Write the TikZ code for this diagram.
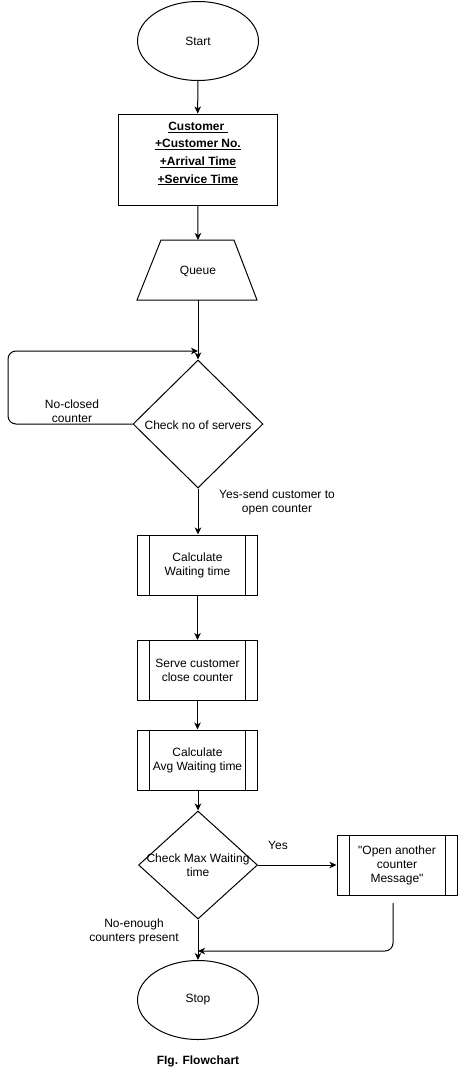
\documentclass[tikz,border=0pt]{standalone}
\usepackage{fontspec}
\setmainfont{Liberation Sans}[Ligatures=TeXOff]
\usetikzlibrary{shapes.geometric,arrows.meta}

\begin{document}
\begin{tikzpicture}[x=1pt,y=-1pt,
  every node/.style={font=\fontsize{12}{14}\selectfont},
  line/.style={draw, line width=1pt},
  arr/.style={line, -{Stealth[length=7pt,width=6.5pt,inset=2pt]}},
  term/.style={ellipse, draw, line width=1pt, minimum width=121pt, minimum height=79pt, inner sep=0pt},
  box/.style={rectangle, draw, line width=1pt, minimum width=120pt, minimum height=60pt, inner sep=0pt, align=center},
  proc/.style={box, path picture={
      \draw[line width=1pt]
        ([xshift=12pt]path picture bounding box.north west) -- ([xshift=12pt]path picture bounding box.south west)
        ([xshift=-12pt]path picture bounding box.north east) -- ([xshift=-12pt]path picture bounding box.south east);}},
  dec/.style={diamond, draw, line width=1pt, inner sep=0pt},
  lbl/.style={align=center, inner sep=0pt}]

\useasboundingbox (0,0) rectangle (458,1071);

% start / customer record
\node[term] (start) at (198,41) {Start};
\node[rectangle, draw, line width=1pt, minimum width=159pt, minimum height=91pt, inner sep=0pt] (cust) at (197.5,159.5) {};
\node[lbl, font=\bfseries\fontsize{12}{17.6}\selectfont] (custtext) at (198,153.5)
  {\underline{Customer\ }\\\underline{+Customer No.}\\\underline{+Arrival Time}\\\underline{+Service Time}};

% queue
\coordinate (qtop) at (198,240);
\coordinate (qbot) at (198,300);
\draw[line] (161,240) -- (234,240) -- (257,300) -- (137,300) -- cycle;
\node (queue) at (198,271) {Queue};

% server check
\node[dec, minimum width=130pt, minimum height=128pt] (d1) at (198,424) {};
\node[lbl] (d1text) at (198,425) {Check no of servers};
\coordinate (loopend) at (198,351);

% processing steps
\node[proc] (wait) at (197.5,565) {Calculate\\Waiting time};
\node[proc] (serve) at (197.5,670.5) {Serve customer\\close counter};
\node[proc] (avg) at (197.5,760) {Calculate\\Avg Waiting time};

% max waiting check
\node[dec, minimum width=119pt, minimum height=108pt] (d2) at (198,865) {};
\node[lbl] (d2text) at (198,865.5) {Check Max Waiting\\time};
\node[proc] (msg) at (397,865) {"Open another\\counter\\Message"};

% stop
\node[term] (stop) at (198,1000) {Stop};
\coordinate (b4out) at (393,903);
\coordinate (merge) at (198,951);

% connectors
\draw[arr] (start) -- (cust);
\draw[arr] (cust) -- (qtop);
\draw[arr] (qbot) -- (d1.north);
\draw[arr, rounded corners=8pt] (d1.west) -- (8,424) -- (8,351) -- (loopend);
\draw[arr] (d1.south) -- (d1.south |- wait.north);
\draw[arr] (wait) -- (serve);
\draw[arr] (serve) -- (avg);
\draw[arr] (avg.south -| d2.north) -- (d2.north);
\draw[arr] (d2.east) -- (msg.west);
\draw[arr] (d2.south) -- (stop.north);
\draw[arr, rounded corners=8pt] (b4out) -- (b4out |- merge) -- (merge);

% labels
\node[lbl] (noclosed) at (72,411) {No-closed\\counter};
\node[lbl] (yessend) at (277,502) {Yes-send customer to\\open counter};
\node[lbl] (yes) at (278,845) {Yes};
\node[lbl] (noenough) at (134,931) {No-enough\\counters present};
\node[lbl, font=\bfseries\fontsize{12}{14}\selectfont] (caption) at (198,1061) {FIg. Flowchart};
\end{tikzpicture}
\end{document}
